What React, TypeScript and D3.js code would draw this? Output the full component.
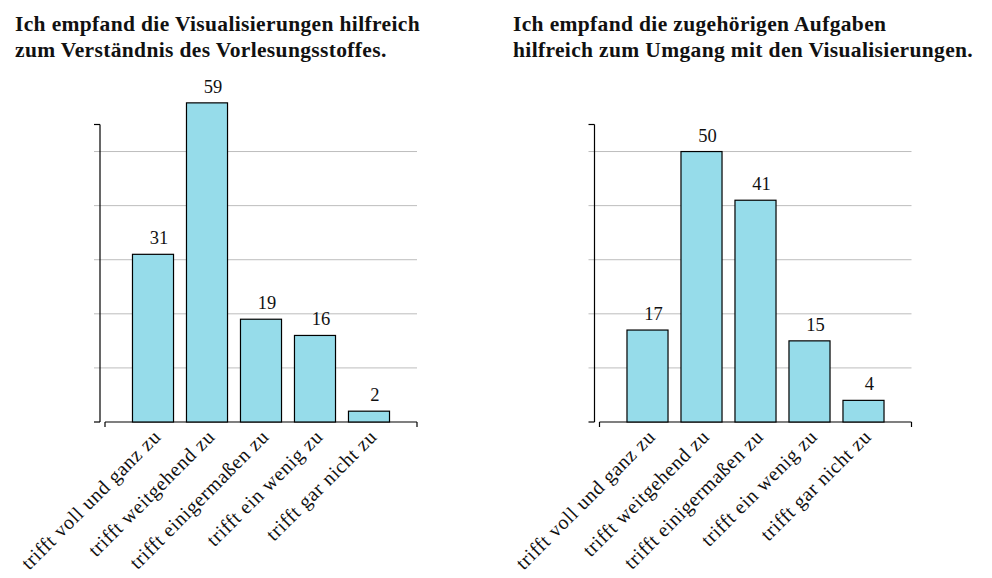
import { useRef, useEffect } from 'react';
import * as d3 from 'd3';

const categories = [
  'trifft voll und ganz zu',
  'trifft weitgehend zu',
  'trifft einigermaßen zu',
  'trifft ein wenig zu',
  'trifft gar nicht zu',
];
const valuesVisualisierungen = [31, 59, 19, 16, 2];
const valuesAufgaben = [17, 50, 41, 15, 4];
const gridValues = [10, 20, 30, 40, 50];
const yMax = 55;

const titleVisualisierungen = [
  'Ich empfand die Visualisierungen hilfreich',
  'zum Verständnis des Vorlesungsstoffes.',
];
const titleAufgaben = [
  'Ich empfand die zugehörigen Aufgaben',
  'hilfreich zum Umgang mit den Visualisierungen.',
];

const WIDTH = 992;
const HEIGHT = 578;
const FONT = '"Liberation Serif", "Times New Roman", serif';

export default function App() {
  const svgRef = useRef<SVGSVGElement>(null);

  useEffect(() => {
    const svg = d3.select(svgRef.current);
    svg.selectAll('*').remove();

    const panels = [
      { title: titleVisualisierungen, values: valuesVisualisierungen, dx: 0, tx: 15 },
      { title: titleAufgaben, values: valuesAufgaben, dx: 494.5, tx: 513 },
    ];

    panels.forEach(p => {
      const g = svg.append('g');

      // Title
      p.title.forEach((line, i) => {
        g.append('text')
          .attr('x', p.tx).attr('y', 31 + i * 26)
          .attr('font-family', FONT).attr('font-weight', 'bold')
          .attr('font-size', 21.5).attr('letter-spacing', 0.35).attr('fill', '#111')
          .text(line);
      });

      const axisX = 100 + p.dx;
      const x0 = 105 + p.dx;
      const x1 = 417 + p.dx;

      const xScale = d3.scaleBand<string>()
        .domain(categories)
        .range([x0, x1])
        .paddingInner(0.24)
        .paddingOuter(0.509);
      const yScale = d3.scaleLinear().domain([0, yMax]).range([422, 124.5]);

      // Gridlines
      gridValues.forEach(v => {
        g.append('line')
          .attr('x1', axisX - 6).attr('x2', x1)
          .attr('y1', yScale(v)).attr('y2', yScale(v))
          .attr('stroke', '#bdbdbd').attr('stroke-width', 1);
      });

      // Y axis
      g.append('line')
        .attr('x1', axisX).attr('x2', axisX)
        .attr('y1', yScale(yMax)).attr('y2', yScale(0))
        .attr('stroke', '#000').attr('stroke-width', 1.2);
      [0, yMax].forEach(v => {
        g.append('line')
          .attr('x1', axisX - 6).attr('x2', axisX)
          .attr('y1', yScale(v)).attr('y2', yScale(v))
          .attr('stroke', '#000').attr('stroke-width', 1.2);
      });

      // X axis
      g.append('line')
        .attr('x1', x0).attr('x2', x1)
        .attr('y1', yScale(0)).attr('y2', yScale(0))
        .attr('stroke', '#000').attr('stroke-width', 1.2);
      [x0, x1].forEach(xv => {
        g.append('line')
          .attr('x1', xv).attr('x2', xv)
          .attr('y1', yScale(0)).attr('y2', yScale(0) + 5)
          .attr('stroke', '#000').attr('stroke-width', 1.2);
      });

      // Bars
      g.selectAll('rect.bar').data(p.values).enter().append('rect')
        .attr('class', 'bar')
        .attr('x', (_, i) => xScale(categories[i])!)
        .attr('y', d => yScale(d))
        .attr('width', xScale.bandwidth())
        .attr('height', d => yScale(0) - yScale(d))
        .attr('fill', '#96dcea')
        .attr('stroke', '#000').attr('stroke-width', 1.2);

      // Value labels
      g.selectAll('text.val').data(p.values).enter().append('text')
        .attr('class', 'val')
        .attr('x', (_, i) => xScale(categories[i])! + xScale.bandwidth() / 2 + 6)
        .attr('y', d => yScale(d) - 10)
        .attr('text-anchor', 'middle')
        .attr('font-family', FONT).attr('font-size', 18.5).attr('fill', '#111')
        .text(d => d);

      // Category labels
      categories.forEach(c => {
        const cx = xScale(c)! + xScale.bandwidth() / 2 + 4;
        const cy = yScale(0) + 11;
        g.append('text')
          .attr('transform', `translate(${cx},${cy}) rotate(-45)`)
          .attr('text-anchor', 'end')
          .attr('dy', '0.35em')
          .attr('font-family', FONT).attr('font-size', 20)
          .attr('letter-spacing', 0.6).attr('fill', '#111')
          .text(c);
      });
    });
  }, []);

  return (
    <div style={{ position: 'absolute', left: 0, top: 0, width: WIDTH, height: HEIGHT, background: '#fff' }}>
      <svg ref={svgRef} width={WIDTH} height={HEIGHT} style={{ display: 'block' }} />
    </div>
  );
}
